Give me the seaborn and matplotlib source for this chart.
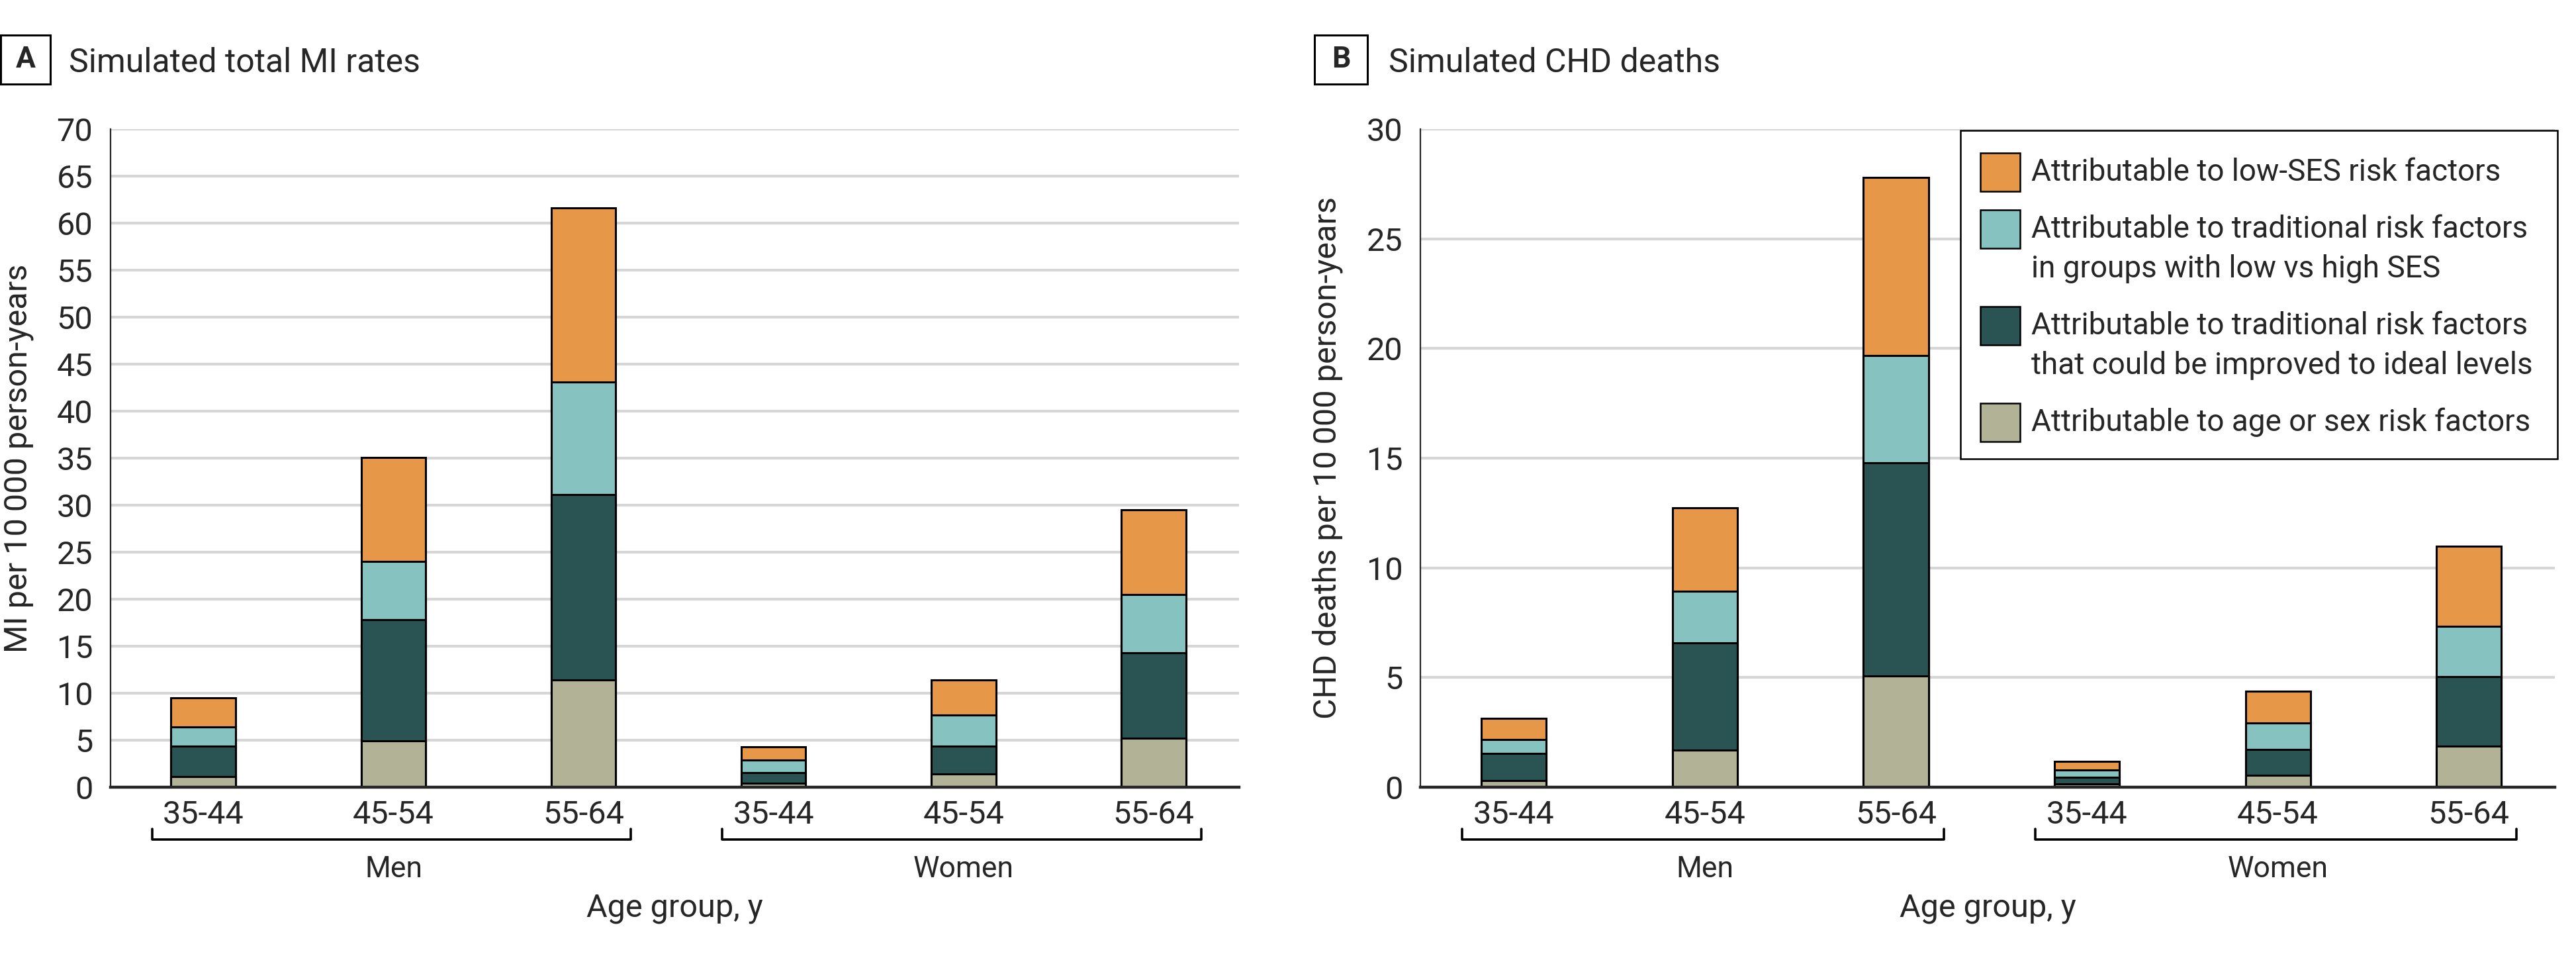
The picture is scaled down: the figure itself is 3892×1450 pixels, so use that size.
import matplotlib
matplotlib.use("Agg")
import matplotlib.pyplot as plt
from matplotlib.patches import Rectangle
from matplotlib import font_manager
import numpy as np
import pandas as pd
import seaborn as sns

# ── Data ──────────────────────────────────────────────────────────────────────
ages = ["35-44", "45-54", "55-64"]
sexes = ["Men", "Women"]
groups = [f"{s} {a}" for s in sexes for a in ages]

layer_labels = [
    "Attributable to age or sex risk factors",
    "Attributable to traditional risk factors\nthat could be improved to ideal levels",
    "Attributable to traditional risk factors\nin groups with low vs high SES",
    "Attributable to low-SES risk factors",
]
layer_colors = ["#B2B396", "#2A5453", "#85C2C0", "#E69747"]

# Panel A: MI per 10 000 person-years (segment sizes, bottom to top)
mi_age_sex = [1.1, 4.9, 11.4, 0.43, 1.38, 5.24]
mi_trad_ideal = [3.28, 12.9, 19.7, 1.14, 3.0, 9.05]
mi_trad_ses = [2.05, 6.2, 12.0, 1.29, 3.33, 6.21]
mi_low_ses = [3.09, 11.1, 18.5, 1.47, 3.67, 9.0]

# Panel B: CHD deaths per 10 000 person-years
chd_age_sex = [0.31, 1.69, 5.08, 0.14, 0.55, 1.88]
chd_trad_ideal = [1.24, 4.88, 9.70, 0.31, 1.18, 3.16]
chd_trad_ses = [0.63, 2.35, 4.91, 0.33, 1.21, 2.29]
chd_low_ses = [0.96, 3.81, 8.11, 0.40, 1.43, 3.67]

# ── Style ─────────────────────────────────────────────────────────────────────
sns.set_style("white")
plt.rcParams["font.family"] = ["Roboto", "DejaVu Sans"]
installed = {f.name for f in font_manager.fontManager.ttflist}
NARROW = "Liberation Sans Narrow" if "Liberation Sans Narrow" in installed else "Roboto"

W, H, DPI = 3892, 1450, 200
fig = plt.figure(figsize=(W / DPI, H / DPI), dpi=DPI)


def fx(px):
    return px / W


def fy(py):
    return 1 - py / H


def stacked(ax, segs, ymax, ylabel):
    df = pd.DataFrame(np.array(segs).T, columns=["s0", "s1", "s2", "s3"])
    df["group"] = groups
    cum = df[["s0", "s1", "s2", "s3"]].cumsum(axis=1)
    # draw tallest cumulative first, lower layers on top of it
    for i in reversed(range(4)):
        sns.barplot(x=df["group"], y=cum.iloc[:, i], color=layer_colors[i],
                    saturation=1, width=0.34, edgecolor="black", linewidth=1.1,
                    errorbar=None, ax=ax)
    ax.set_xlim(-0.49, 5.45)
    ax.set_ylim(0, ymax)
    ax.set_yticks(np.arange(0, ymax + 1, 5))
    ax.set_axisbelow(True)
    ax.yaxis.grid(True, color="#d6d6d6", linewidth=1.5)
    ax.set_xticks(range(6))
    ax.set_xticklabels(ages * 2)
    ax.tick_params(axis="x", length=0, pad=7, labelsize=17.5)
    ax.tick_params(axis="y", length=5.5, width=0.8, pad=4, labelsize=17.5)
    for s in ["top", "right"]:
        ax.spines[s].set_visible(False)
    ax.spines["left"].set_linewidth(0.8)
    ax.spines["bottom"].set_linewidth(1.6)
    ax.set_xlabel("")
    ax.set_ylabel(ylabel, fontsize=17.5)
    ax.yaxis.set_label_coords(-0.068, 0.5)

    # group brackets under the age tick labels
    tr = ax.get_xaxis_transform()
    for j, sex in enumerate(sexes):
        x0, x1 = 3 * j - 0.27, 3 * j + 2.25
        ax.plot([x0, x0, x1, x1], [-0.063, -0.0795, -0.0795, -0.063],
                color="black", lw=1.3, transform=tr, clip_on=False)
        ax.text(3 * j + 1, -0.1368, sex, transform=tr, ha="center",
                va="baseline", fontsize=16)
    ax.text(0.5, -0.197, "Age group, y", transform=ax.transAxes, ha="center",
            va="baseline", fontsize=17.5)


ax_a = fig.add_axes([fx(166.6), fy(1189), fx(1872) - fx(166.6), fy(195) - fy(1189)])
ax_b = fig.add_axes([fx(2146), fy(1189), fx(3860) - fx(2146), fy(195) - fy(1189)])

stacked(ax_a, [mi_age_sex, mi_trad_ideal, mi_trad_ses, mi_low_ses], 70,
        "MI per 10\u2009000 person-years")
stacked(ax_b, [chd_age_sex, chd_trad_ideal, chd_trad_ses, chd_low_ses], 30,
        "CHD deaths per 10\u2009000 person-years")

# ── Panel titles ──────────────────────────────────────────────────────────────
for letter, bx0, bx1, title, tx in [("A", 1, 76, "Simulated total MI rates", 104),
                                    ("B", 1986, 2066, "Simulated CHD deaths", 2098)]:
    fig.add_artist(Rectangle((fx(bx0), fy(127)), fx(bx1) - fx(bx0), fy(53) - fy(127),
                             transform=fig.transFigure, fill=False,
                             edgecolor="black", linewidth=1.1))
    fig.text(fx((bx0 + bx1) / 2), fy(90), letter, ha="center", va="center",
             fontsize=16, fontweight="bold")
    fig.text(fx(tx), fy(109), title, ha="left", va="baseline",
             fontsize=18, family=[NARROW, "DejaVu Sans"])

# ── Legend (handles aligned with first line of each label) ────────────────────
fig.add_artist(Rectangle((fx(2962), fy(693)), fx(3864) - fx(2962), fy(197) - fy(693),
                         transform=fig.transFigure, facecolor="white",
                         edgecolor="black", linewidth=0.9, zorder=5))
y = 260
for i in reversed(range(4)):
    lines = layer_labels[i].split("\n")
    fig.add_artist(Rectangle((fx(2992), fy(y + 29)), fx(60), fy(0) - fy(58),
                             transform=fig.transFigure, facecolor=layer_colors[i],
                             edgecolor="black", linewidth=0.9, zorder=6))
    for k, line in enumerate(lines):
        fig.text(fx(3069), fy(y + 60 * k), line, ha="left", va="center",
                 fontsize=16.5, family=[NARROW, "DejaVu Sans"], zorder=6)
    y += 60 * len(lines) + 26

fig.savefig("out.png", dpi=DPI)
